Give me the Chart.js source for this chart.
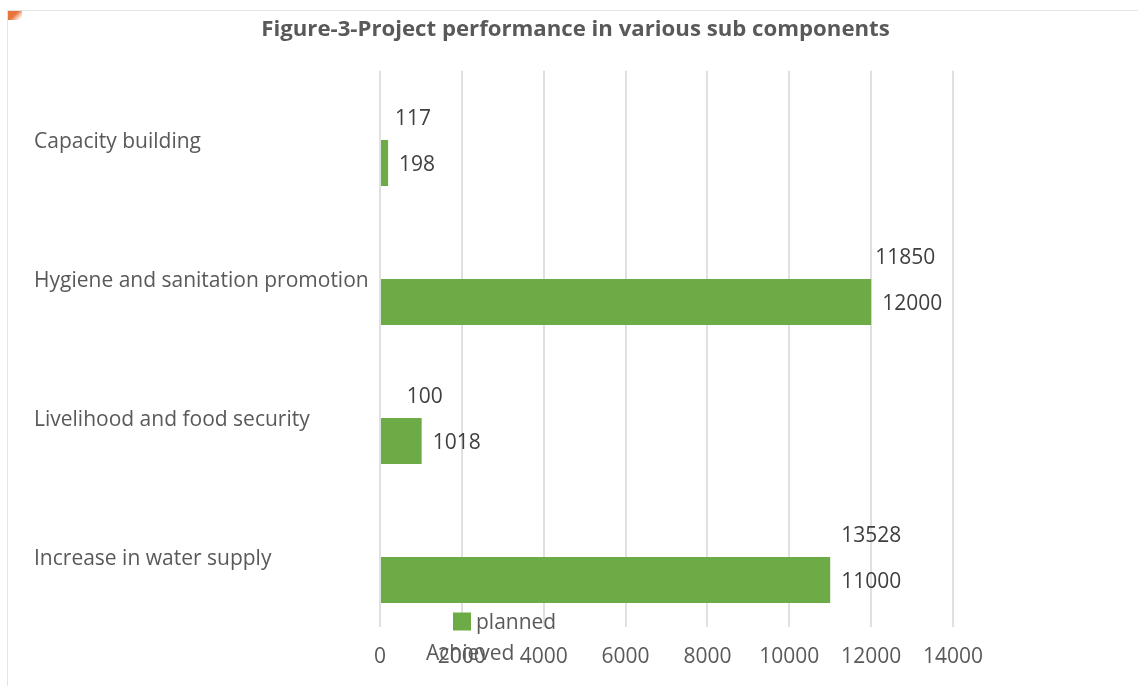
<!DOCTYPE html>
<html><head><meta charset="utf-8">
<script src="https://cdn.jsdelivr.net/npm/chart.js@4"></script>
<style>
html,body{margin:0;padding:0;background:#fff;overflow:hidden}
#wrap{position:relative;width:1138px;height:686px}
#frame{position:absolute;left:7px;top:10px;width:1131px;height:676px;border-left:1px solid #e4e4e4;border-top:1px solid #e4e4e4;box-sizing:border-box}
#mark{position:absolute;left:8px;top:11px;width:14px;height:9px;background:linear-gradient(135deg,#e8743b 0 45%,#f3c9ae 70%,#fff 90%)}
canvas{position:absolute;left:0;top:0}
</style></head><body>
<div id="wrap"><div id="frame"></div><div id="mark"></div><canvas id="c" width="1138" height="686"></canvas></div>
<script>
const categories = ["Capacity building","Hygiene and sanitation promotion","Livelihood and food security","Increase in water supply"];
const achieved = [117,11850,100,13528];
const planned = [198,12000,1018,11000];
const xTicks = [0,2000,4000,6000,8000,10000,12000,14000];
const seriesNames = ["Achieved","planned"];
const achievedLabelShift = [7,4,-15,11];

const GREEN = "#6cab45", TEXT = "#595959", LABEL = "#404040";
const FONT = "'Open Sans'";

const labelsPlugin = {
  id: "labelsPlugin",
  afterLayout(chart){
    chart.titleBlock.left += 82;
    chart.titleBlock.right += 82;
  },
  afterDatasetsDraw(chart){
    const {ctx} = chart;
    const a = chart.getDatasetMeta(0).data, p = chart.getDatasetMeta(1).data;
    ctx.save();
    ctx.font = "21px " + FONT;
    ctx.fillStyle = LABEL;
    ctx.textAlign = "left";
    ctx.textBaseline = "middle";
    p.forEach((bar,i)=>{
      ctx.fillText(String(planned[i]), bar.x + 11, bar.y + 2);
      ctx.fillText(String(achieved[i]), bar.x + achievedLabelShift[i], a[i].y + 2);
    });
    // legend, overlapping the axis as in the source
    const bottom = chart.chartArea.bottom;
    ctx.fillStyle = GREEN;
    ctx.fillRect(453, bottom - 14, 18, 18);
    ctx.fillStyle = TEXT;
    ctx.fillText(seriesNames[1], 476, bottom - 3);
    ctx.fillText(seriesNames[0], 426, bottom + 28);
    ctx.restore();
  }
};

new Chart(document.getElementById("c"),{
  type:"bar",
  data:{labels:categories,datasets:[
    {label:seriesNames[0],data:achieved,backgroundColor:"rgba(0,0,0,0)"},
    {label:seriesNames[1],data:planned,backgroundColor:GREEN}
  ]},
  options:{
    indexAxis:"y",responsive:false,animation:false,
    categoryPercentage:0.66,barPercentage:1,
    layout:{padding:{left:34,right:185,top:0,bottom:0}},
    plugins:{
      legend:{display:false},tooltip:{enabled:false},
      title:{display:true,text:"Figure-3-Project performance in various sub components",
        color:TEXT,font:{family:FONT,size:22.2,weight:"bold"},padding:{top:16,bottom:28}}
    },
    scales:{
      x:{min:0,max:14000,afterBuildTicks(s){s.ticks=xTicks.map(v=>({value:v}));},
        afterFit(s){s.height=59.5;},
        grid:{color:"#e0e0e0",lineWidth:2,drawTicks:false},border:{display:false},
        ticks:{color:TEXT,font:{family:FONT,size:21},padding:18,maxRotation:0,autoSkip:false,callback:v=>String(v)}},
      y:{afterFit(s){s.width=346;},
        grid:{display:false},border:{display:false},
        ticks:{color:TEXT,font:{family:FONT,size:21},crossAlign:"far",padding:0,labelOffset:2,autoSkip:false}}
    }
  },
  plugins:[labelsPlugin]
});
</script>
</body></html>
